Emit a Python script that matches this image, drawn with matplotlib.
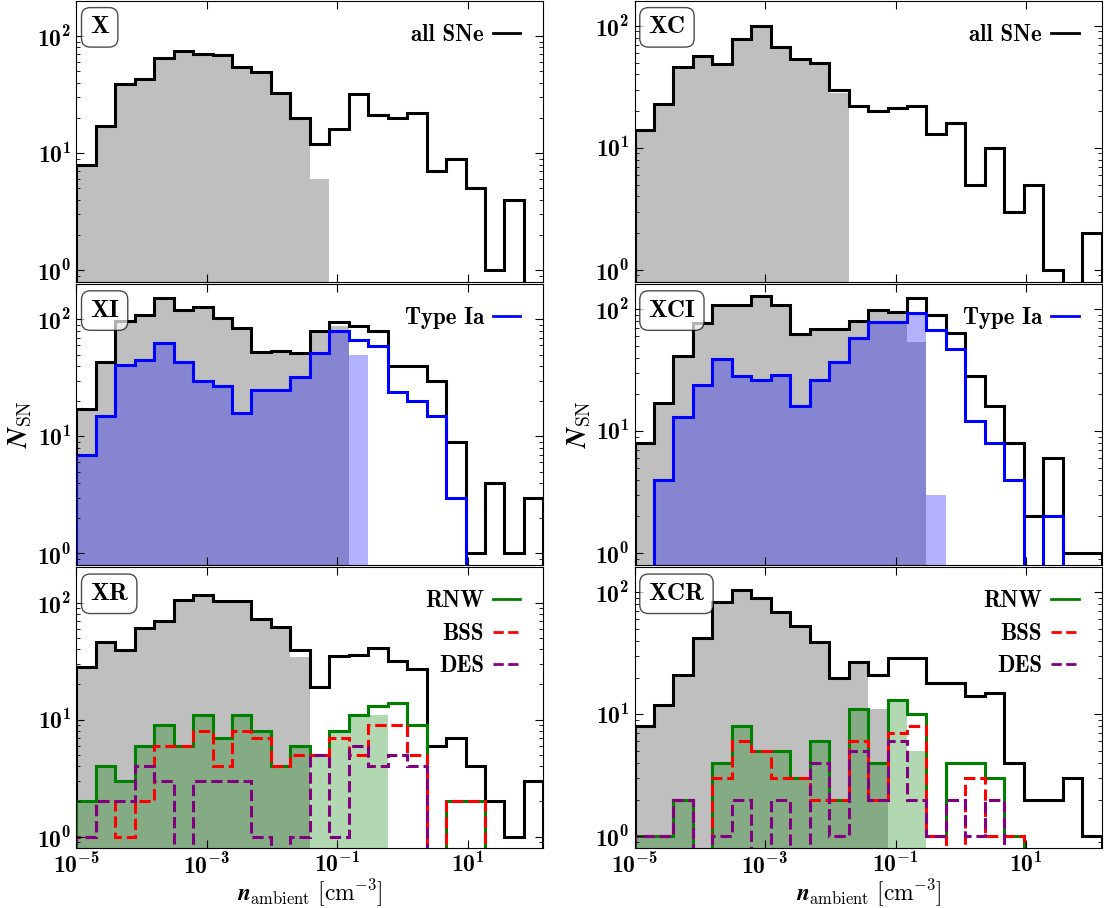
import numpy as np
import matplotlib
matplotlib.use("Agg")
import matplotlib.pyplot as plt
from matplotlib.lines import Line2D
from matplotlib.ticker import FixedLocator, FuncFormatter, LogLocator, NullLocator

plt.rcParams['font.family'] = ['cmb10', 'DejaVu Serif']
plt.rcParams['font.size'] = 16
plt.rcParams['mathtext.fontset'] = 'custom'
plt.rcParams['mathtext.rm'] = 'cmr10'
plt.rcParams['mathtext.bf'] = 'cmb10'
plt.rcParams['mathtext.bfit'] = 'STIXGeneral:italic:bold'
plt.rcParams['axes.formatter.use_mathtext'] = True

# log-spaced density bins [cm^-3]
bins = np.logspace(-5, 2.16, 25)

# --- X / XC : all SNe
x_all = [8, 17, 39, 43, 65, 75, 71, 69, 55, 49, 33, 20, 12, 16, 32, 21, 20, 22, 7, 9, 5, 1, 4, 0]
x_gray = [8, 17, 39, 43, 65, 75, 71, 69, 55, 49, 33, 20, 6, 0, 0, 0, 0, 0, 0, 0, 0, 0, 0, 0]
xc_all = [14, 23, 46, 57, 49, 78, 99, 67, 53, 50, 30, 22, 20, 21, 22, 13, 16, 5, 10, 3, 5, 1, 0, 2]
xc_gray = [14, 23, 46, 57, 49, 78, 99, 67, 53, 50, 28, 0, 0, 0, 0, 0, 0, 0, 0, 0, 0, 0, 0, 0]

# --- XI / XCI : Type Ia
xi_all = [17, 43, 96, 110, 153, 121, 127, 103, 84, 53, 54, 52, 79, 95, 88, 79, 40, 40, 30, 9, 1, 4, 1, 3]
xi_gray = [17, 43, 96, 110, 153, 121, 127, 103, 84, 53, 54, 52, 79, 88, 0, 0, 0, 0, 0, 0, 0, 0, 0, 0]
xi_ia = [7, 15, 41, 45, 63, 43, 30, 27, 16, 25, 25, 32, 52, 79, 67, 59, 24, 20, 15, 3, 0, 0, 0, 0]
xi_ia_fill = [7, 15, 41, 45, 63, 43, 30, 27, 16, 25, 25, 32, 52, 79, 50, 0, 0, 0, 0, 0, 0, 0, 0, 0]
xci_all = [8, 17, 41, 77, 108, 108, 127, 107, 62, 68, 68, 80, 99, 94, 123, 90, 64, 28, 16, 8, 2, 6, 1, 1]
xci_gray = [8, 17, 41, 77, 108, 108, 127, 107, 62, 68, 68, 80, 99, 94, 54, 0, 0, 0, 0, 0, 0, 0, 0, 0]
xci_ia = [0, 4, 13, 24, 39, 28, 26, 29, 16, 26, 37, 58, 79, 79, 93, 67, 47, 12, 8, 4, 0, 2, 0, 0]
xci_ia_fill = [0, 4, 13, 24, 39, 28, 26, 29, 16, 26, 37, 58, 79, 79, 93, 3, 0, 0, 0, 0, 0, 0, 0, 0]

# --- XR / XCR : runaways etc.
xr_all = [28, 46, 39, 61, 70, 106, 117, 104, 103, 72, 62, 39, 19, 35, 36, 41, 32, 27, 6, 7, 4, 2, 1, 3]
xr_gray = [28, 46, 39, 61, 70, 106, 117, 104, 103, 72, 62, 34, 0, 0, 0, 0, 0, 0, 0, 0, 0, 0, 0, 0]
xr_rnw = [2, 4, 3, 6, 9, 6, 11, 7, 11, 8, 4, 6, 5, 8, 11, 13, 14, 9, 0, 2, 2, 0, 0, 0]
xr_rnw_fill = [2, 4, 3, 6, 9, 6, 11, 7, 11, 8, 4, 6, 5, 8, 11, 11, 0, 0, 0, 0, 0, 0, 0, 0]
xr_bss = [1, 2, 1, 2, 6, 6, 8, 4, 8, 7, 4, 5, 5, 7, 5, 9, 9, 5, 0, 2, 2, 0, 0, 0]
xr_des = [1, 2, 2, 4, 3, 0, 3, 3, 3, 1, 0, 1, 5, 1, 6, 4, 5, 4, 0, 0, 0, 0, 0, 0]
xcr_all = [8, 12, 21, 42, 83, 104, 90, 69, 53, 39, 20, 27, 21, 29, 29, 18, 18, 14, 15, 4, 2, 2, 3, 1]
xcr_gray = [8, 12, 21, 42, 83, 104, 90, 69, 53, 39, 20, 27, 11, 0, 0, 0, 0, 0, 0, 0, 0, 0, 0, 0]
xcr_rnw = [1, 1, 2, 0, 4, 8, 5, 5, 3, 6, 2, 11, 4, 13, 10, 1, 4, 4, 3, 1, 0, 0, 0, 0]
xcr_rnw_fill = [1, 1, 2, 0, 4, 8, 5, 5, 3, 6, 2, 11, 4, 13, 5, 0, 0, 0, 0, 0, 0, 0, 0, 0]
xcr_bss = [1, 1, 2, 0, 3, 6, 5, 3, 3, 2, 2, 6, 2, 7, 8, 1, 0, 3, 1, 1, 0, 0, 0, 0]
xcr_des = [1, 1, 2, 0, 1, 2, 0, 2, 0, 4, 1, 5, 2, 6, 2, 1, 2, 1, 2, 0, 0, 0, 0, 0]

labels = [['X', 'XC'], ['XI', 'XCI'], ['XR', 'XCR']]


def fill(ax, vals, color, alpha):
    ax.bar(bins[:-1], vals, width=np.diff(bins), align='edge', color=color,
           alpha=alpha, linewidth=0)


def step(ax, vals, color, ls='-'):
    ax.stairs(vals, bins, color=color, lw=2.2, ls=ls)


leg_kw = dict(loc='upper right', frameon=False, markerfirst=False, handlelength=1.2,
              handletextpad=0.4, labelspacing=0.45, borderaxespad=0.6, fontsize=16.5)

fig, axes = plt.subplots(3, 2, figsize=(11.05, 9.08), dpi=100)
plt.subplots_adjust(left=0.069, right=0.997, top=0.999, bottom=0.066,
                    wspace=0.195, hspace=0.009)

# top row
for ax, tot, gray in [(axes[0, 0], x_all, x_gray), (axes[0, 1], xc_all, xc_gray)]:
    fill(ax, gray, 'gray', 0.5)
    step(ax, tot, 'black')
    ax.legend([Line2D([], [], color='black', lw=2)], ['all SNe'], **leg_kw)

# middle row
for ax, tot, gray, ia, iaf in [(axes[1, 0], xi_all, xi_gray, xi_ia, xi_ia_fill),
                               (axes[1, 1], xci_all, xci_gray, xci_ia, xci_ia_fill)]:
    fill(ax, gray, 'gray', 0.5)
    fill(ax, iaf, 'blue', 0.3)
    step(ax, tot, 'black')
    step(ax, ia, 'blue')
    ax.legend([Line2D([], [], color='blue', lw=2)], ['Type Ia'], **leg_kw)
    ax.set_ylabel(r'$\mathbfit{N}_\mathrm{SN}$', fontsize=20, labelpad=2)

# bottom row
for ax, tot, gray, rnw, rnwf, bss, des in [
        (axes[2, 0], xr_all, xr_gray, xr_rnw, xr_rnw_fill, xr_bss, xr_des),
        (axes[2, 1], xcr_all, xcr_gray, xcr_rnw, xcr_rnw_fill, xcr_bss, xcr_des)]:
    fill(ax, gray, 'gray', 0.5)
    fill(ax, rnwf, 'green', 0.3)
    step(ax, tot, 'black')
    step(ax, rnw, 'green')
    step(ax, bss, 'red', '--')
    step(ax, des, 'purple', '--')
    handles = [Line2D([], [], color='green', lw=2),
               Line2D([], [], color='red', lw=2, ls='--'),
               Line2D([], [], color='purple', lw=2, ls='--')]
    ax.legend(handles, ['RNW', 'BSS', 'DES'], **leg_kw)
    ax.set_xlabel(r'$\mathbfit{n}_\mathrm{ambient}\ [\mathrm{cm}^{-3}]$', fontsize=17,
                  labelpad=-1)

for i in range(3):
    for j in range(2):
        ax = axes[i, j]
        ax.set_xscale('log')
        ax.set_yscale('log')
        ax.set_xlim(bins[0], bins[-1])
        ax.set_ylim(0.8, 200 if j == 0 else 160)
        ax.xaxis.set_major_locator(FixedLocator([1e-5, 1e-3, 1e-1, 1e1]))
        ax.xaxis.set_minor_locator(NullLocator())
        ax.yaxis.set_major_locator(FixedLocator([1, 10, 100]))
        ax.yaxis.set_minor_locator(LogLocator(subs=np.arange(2, 10)))
        fmt = FuncFormatter(lambda v, p: r'$\mathbf{10^{%d}}$' % round(np.log10(v)))
        ax.xaxis.set_major_formatter(fmt)
        ax.yaxis.set_major_formatter(fmt)
        ax.tick_params(which='both', direction='in', top=True, right=True, labelsize=17)
        ax.tick_params(which='major', length=6)
        ax.tick_params(which='minor', length=3)
        if i < 2:
            ax.tick_params(labelbottom=False)
        ax.text(0.03, 0.945, labels[i][j], transform=ax.transAxes, ha='left', va='top',
                fontsize=18,
                bbox=dict(boxstyle='round,pad=0.35', fc='white', ec='black', alpha=0.7))

fig.savefig('out.png', dpi=100)
